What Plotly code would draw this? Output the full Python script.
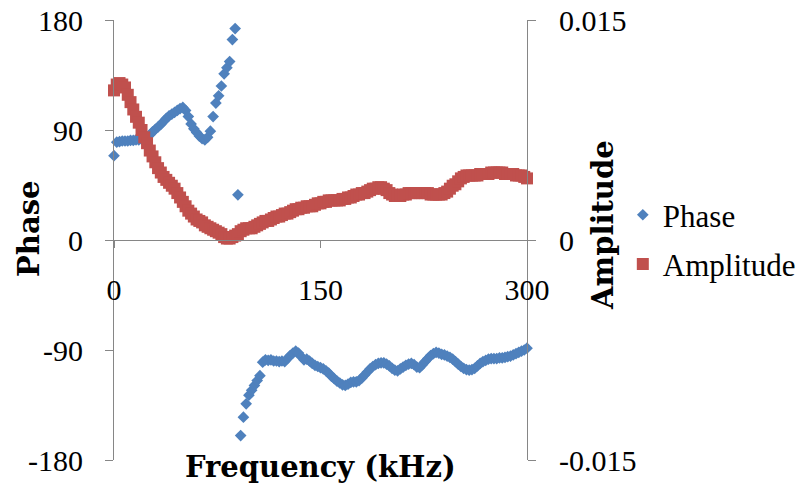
import plotly.graph_objects as go

freq_khz = [0, 2, 4, 6, 8, 10, 12, 14, 16, 18, 20, 22, 24, 26, 28, 30, 32, 34, 36, 38,
            40, 42, 44, 46, 48, 50, 52, 54, 56, 58, 60, 62, 64, 66, 68, 70, 72, 74, 76, 78,
            80, 82, 84, 86, 88, 90, 92, 94, 96, 98, 100, 102, 104, 106, 108, 110, 112, 114, 116, 118,
            120, 122, 124, 126, 128, 130, 132, 134, 136, 138, 140, 142, 144, 146, 148, 150, 152, 154, 156, 158,
            160, 162, 164, 166, 168, 170, 172, 174, 176, 178, 180, 182, 184, 186, 188, 190, 192, 194, 196, 198,
            200, 202, 204, 206, 208, 210, 212, 214, 216, 218, 220, 222, 224, 226, 228, 230, 232, 234, 236, 238,
            240, 242, 244, 246, 248, 250, 252, 254, 256, 258, 260, 262, 264, 266, 268, 270, 272, 274, 276, 278,
            280, 282, 284, 286, 288, 290, 292, 294, 296, 298, 300]

phase_deg = [69, 80, 80.5, 81, 81, 81, 81.5, 81.5, 82, 82, 82.5, 83, 84, 86, 88.5, 90.5, 92.5, 94.5, 97, 99.5,
             101.5, 103, 104.5, 106, 107.5, 108.5, 106, 101, 95, 91, 88, 85, 83, 82, 84, 89, 101, 112, 118, 126,
             136, 141, 146, 164, 173, 37, -160, -145, -134, -127, -123, -119, -115, -111, -100, -98, -98.5, -98, -99, -99,
             -99.5, -99, -99.5, -97, -94.5, -92.5, -91, -92.5, -95.5, -98, -97.5, -99, -101, -102.5, -103.5, -104.5, -105.5, -107, -109, -111.5,
             -113.5, -115.5, -117, -118.5, -119, -118, -116.5, -116, -116, -115, -113, -110.5, -108, -105.5, -103.5, -102, -101, -100.5, -100.5, -101.5,
             -103, -105, -106.5, -107, -105.5, -104, -102.5, -101.5, -101, -102, -104, -104.5, -102, -99.5, -97, -94.5, -93, -92, -92.5, -93.5,
             -94, -95, -96, -97.5, -99.5, -101.5, -103.5, -105, -106, -106.5, -106, -105, -103, -101, -99.5, -98.5, -97.5, -97, -97, -97,
             -96.5, -96.5, -96, -95.5, -95, -94, -93, -92, -91, -90, -88.5]

amplitude = [0.0102, 0.0106, 0.0107, 0.0106, 0.0104, 0.0099, 0.0094, 0.0089, 0.0084, 0.0080,
             0.0075, 0.0070, 0.0066, 0.0061, 0.0057, 0.0053, 0.0049, 0.0046, 0.0043, 0.0041,
             0.0039, 0.0037, 0.0035, 0.0032, 0.0029, 0.0026, 0.0023, 0.0020, 0.0018, 0.0016,
             0.0014, 0.0013, 0.0012, 0.0010, 0.0009, 0.0008, 0.0007, 0.0006, 0.0005, 0.0004,
             0.0002, 0.0001, 0.0001, 0.0002, 0.0003, 0.0004, 0.0006, 0.0007, 0.0008, 0.0008,
             0.0008, 0.0009, 0.0010, 0.0011, 0.0012, 0.0013, 0.0013, 0.0014, 0.0015, 0.0016,
             0.0016, 0.0017, 0.0018, 0.0018, 0.0019, 0.0020, 0.0021, 0.0021, 0.0022, 0.0022,
             0.0023, 0.0023, 0.0023, 0.0024, 0.0025, 0.0025, 0.0026, 0.0026, 0.0027, 0.0027,
             0.0027, 0.0027, 0.0027, 0.0028, 0.0028, 0.0029, 0.0029, 0.0030, 0.0031, 0.0031,
             0.0032, 0.0032, 0.0033, 0.0034, 0.0035, 0.0035, 0.0036, 0.0036, 0.0035, 0.0034,
             0.0032, 0.0031, 0.0030, 0.0030, 0.0030, 0.0031, 0.0031, 0.0032, 0.0032, 0.0032,
             0.0032, 0.0032, 0.0032, 0.0032, 0.0032, 0.0031, 0.0031, 0.0031, 0.0031, 0.0031,
             0.0032, 0.0033, 0.0035, 0.0037, 0.0038, 0.0040, 0.0042, 0.0043, 0.0044, 0.0044,
             0.0044, 0.0044, 0.0044, 0.0045, 0.0045, 0.0045, 0.0045, 0.0046, 0.0046, 0.0046,
             0.0046, 0.0046, 0.0045, 0.0045, 0.0045, 0.0045, 0.0044, 0.0044, 0.0044, 0.0043,
             0.0042]

x_ticks = [0, 150, 300]
phase_ticks = [-180, -90, 0, 90, 180]
phase_tick_text = ["-180", "-90", "0", "90", "180"]
amp_ticks = [-0.015, 0, 0.015]
amp_tick_text = ["-0.015", "0", "0.015"]

BLUE = "#4F81BD"
RED = "#C0504D"
AXIS = "#868686"
FONT = "Liberation Serif"
TITLE_FONT = "DejaVu Serif"

fig = go.Figure()
fig.add_trace(go.Scatter(
    x=freq_khz, y=phase_deg, mode="markers", name="Phase", yaxis="y",
    marker=dict(symbol="diamond", size=9, color=BLUE), cliponaxis=False,
    legendgroup="a"))
fig.add_trace(go.Scatter(
    x=freq_khz, y=amplitude, mode="markers", name="Amplitude", yaxis="y2",
    marker=dict(symbol="square", size=12, color=RED), cliponaxis=False,
    legendgroup="b"))

title_font = dict(family=TITLE_FONT, size=29, color="black", weight="bold")

fig.update_layout(
    template="none",
    width=800, height=488,
    margin=dict(l=114, r=273, t=20, b=28, autoexpand=False),
    paper_bgcolor="white", plot_bgcolor="white",
    font=dict(family=FONT, color="black", size=30),
    showlegend=True,
    xaxis=dict(range=[0, 300], tickvals=x_ticks, showgrid=False, zeroline=False,
               showline=True, linecolor=AXIS, linewidth=1, ticks="outside", ticklen=7,
               tickcolor=AXIS, tickwidth=1, anchor="free", position=0.5,
               ticklabelstandoff=16, tickfont=dict(family=FONT, size=30, color="black"),
               automargin=False),
    yaxis=dict(range=[-180, 180], tickvals=phase_ticks, ticktext=phase_tick_text,
               showgrid=False, zeroline=False,
               showline=True, linecolor=AXIS, linewidth=1, ticks="outside", ticklen=8,
               tickcolor=AXIS, tickwidth=1, ticklabelstandoff=16,
               tickfont=dict(family=FONT, size=30, color="black"), automargin=False),
    yaxis2=dict(range=[-0.015, 0.015], tickvals=amp_ticks, ticktext=amp_tick_text,
                overlaying="y", side="right", showgrid=False, zeroline=False,
                showline=True, linecolor=AXIS, linewidth=1, ticks="outside", ticklen=8,
                tickcolor=AXIS, tickwidth=1, ticklabelstandoff=17,
                tickfont=dict(family=FONT, size=30, color="black"), automargin=False),
    legend=dict(x=1.232, y=0.618, xanchor="left", yanchor="top",
                font=dict(family=FONT, size=31, color="black"),
                bgcolor="rgba(0,0,0,0)", borderwidth=0, tracegroupgap=6),
    annotations=[
        dict(text="Phase", x=-0.2046, y=0.524, xref="paper", yref="paper",
             xanchor="center", yanchor="middle", textangle=-90, showarrow=False,
             font=title_font),
        dict(text="Amplitude", x=1.184, y=0.534, xref="paper", yref="paper",
             xanchor="center", yanchor="middle", textangle=-90, showarrow=False,
             font=title_font),
        dict(text="Frequency (kHz)", x=0.501, y=-0.016, xref="paper", yref="paper",
             xanchor="center", yanchor="middle", showarrow=False,
             font=title_font),
    ],
)

fig.write_html("out.html")
